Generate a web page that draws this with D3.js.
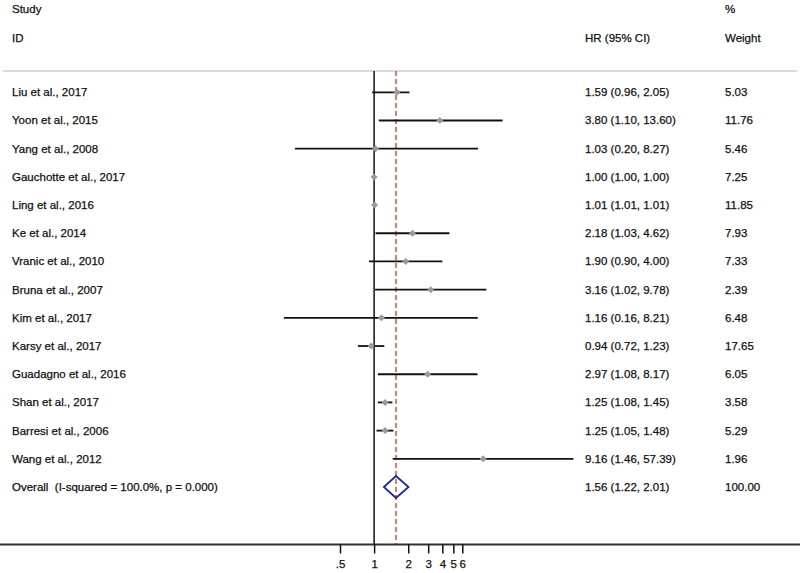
<!DOCTYPE html>
<html>
<head>
<meta charset="utf-8">
<script src="https://cdn.jsdelivr.net/npm/d3@7"></script>
<style>
	body { margin: 0; background: #fff; }
	text { font-family: "Liberation Sans", Arial, Helvetica, sans-serif; font-size: 11.5px; fill: #111; stroke: #111; stroke-width: 0.25px; white-space: pre; }
</style>
</head>
<body>
<div id="figure"></div>
<script>
var w = 800;
var h = 573;

// study data
var studies = ["Liu et al., 2017", "Yoon et al., 2015", "Yang et al., 2008", "Gauchotte et al., 2017",
	"Ling et al., 2016", "Ke et al., 2014", "Vranic et al., 2010", "Bruna et al., 2007", "Kim et al., 2017",
	"Karsy et al., 2017", "Guadagno et al., 2016", "Shan et al., 2017", "Barresi et al., 2006", "Wang et al., 2012"];
var hr = [1.59, 3.80, 1.03, 1.00, 1.01, 2.18, 1.90, 3.16, 1.16, 0.94, 2.97, 1.25, 1.25, 9.16];
var lower = [0.96, 1.10, 0.20, 1.00, 1.01, 1.03, 0.90, 1.02, 0.16, 0.72, 1.08, 1.08, 1.05, 1.46];
var upper = [2.05, 13.60, 8.27, 1.00, 1.01, 4.62, 4.00, 9.78, 8.21, 1.23, 8.17, 1.45, 1.48, 57.39];
var weights = [5.03, 11.76, 5.46, 7.25, 11.85, 7.93, 7.33, 2.39, 6.48, 17.65, 6.05, 3.58, 5.29, 1.96];

// pooled estimate
var overallLabel = "Overall  (I-squared = 100.0%, p = 0.000)";
var overall = {hr: 1.56, lo: 1.22, hi: 2.01, weight: 100.00};

var tickValues = [0.5, 1, 2, 3, 4, 5, 6];
var tickLabels = [".5", "1", "2", "3", "4", "5", "6"];

var svg = d3.select('#figure')
	.append('svg')
	.attr('width', w)
	.attr('height', h);

var xScale = d3.scaleLog()
	.domain([0.5, 6])
	.range([340, 462.3]);

var yScale = d3.scaleLinear()
	.domain([0, studies.length])
	.range([92.3, 487]);

var axisY = 544.5;
var topY = 71;
var colLabel = 12, colHR = 585, colW = 725;

function fmt(v){ return v.toFixed(2); }

// header
svg.append('text').attr('x', colLabel).attr('y', 13).text('Study');
svg.append('text').attr('x', colLabel).attr('y', 42).text('ID');
svg.append('text').attr('x', colHR).attr('y', 42).text('HR (95% CI)');
svg.append('text').attr('x', colW).attr('y', 13).text('%');
svg.append('text').attr('x', colW).attr('y', 42).text('Weight');

svg.append('line')
	.attr('x1', 3).attr('x2', 797)
	.attr('y1', topY).attr('y2', topY)
	.attr('stroke', '#c9ccd3')
	.attr('stroke-width', 1.5);

// null line
svg.append('line')
	.attr('x1', xScale(1)).attr('x2', xScale(1))
	.attr('y1', topY).attr('y2', axisY)
	.attr('stroke', '#111')
	.attr('stroke-width', 1.5);

// overall effect line
svg.append('line')
	.attr('x1', xScale(overall.hr)).attr('x2', xScale(overall.hr))
	.attr('y1', topY).attr('y2', axisY)
	.attr('stroke', '#c0392b')
	.attr('stroke-width', 1.3)
	.attr('stroke-dasharray', '5,3');

// confidence intervals
var rows = svg.append('g').classed('rows', true);

rows.selectAll('line.ci')
	.data(studies)
	.enter()
	.append('line')
	.classed('ci', true)
	.attr('x1', function(d, i){ return xScale(lower[i]); })
	.attr('x2', function(d, i){ return xScale(upper[i]); })
	.attr('y1', function(d, i){ return yScale(i); })
	.attr('y2', function(d, i){ return yScale(i); })
	.attr('stroke', '#111')
	.attr('stroke-width', 1.8);

// point estimates
rows.selectAll('path.pt')
	.data(studies)
	.enter()
	.append('path')
	.classed('pt', true)
	.attr('d', function(d, i){
		var x = xScale(hr[i]), y = yScale(i), r = 3.5;
		return 'M' + (x - r) + ',' + y + 'L' + x + ',' + (y - r) + 'L' + (x + r) + ',' + y + 'L' + x + ',' + (y + r) + 'Z';
	})
	.attr('fill', '#9a9a9a');

// study labels
rows.selectAll('text.name')
	.data(studies)
	.enter()
	.append('text')
	.attr('x', colLabel)
	.attr('y', function(d, i){ return yScale(i) + 4; })
	.text(function(d){ return d; });

rows.selectAll('text.hr')
	.data(studies)
	.enter()
	.append('text')
	.attr('x', colHR)
	.attr('y', function(d, i){ return yScale(i) + 4; })
	.text(function(d, i){ return fmt(hr[i]) + ' (' + fmt(lower[i]) + ', ' + fmt(upper[i]) + ')'; });

rows.selectAll('text.wt')
	.data(studies)
	.enter()
	.append('text')
	.attr('x', colW)
	.attr('y', function(d, i){ return yScale(i) + 4; })
	.text(function(d, i){ return fmt(weights[i]); });

// overall diamond
var oy = yScale(studies.length);
svg.append('path')
	.attr('d', 'M' + xScale(overall.lo) + ',' + oy +
		'L' + xScale(overall.hr) + ',' + (oy - 11) +
		'L' + xScale(overall.hi) + ',' + oy +
		'L' + xScale(overall.hr) + ',' + (oy + 11) + 'Z')
	.attr('fill', 'none')
	.attr('stroke', '#1f2b8c')
	.attr('stroke-width', 1.8);

svg.append('text').attr('x', colLabel).attr('y', oy + 4).text(overallLabel);
svg.append('text').attr('x', colHR).attr('y', oy + 4)
	.text(fmt(overall.hr) + ' (' + fmt(overall.lo) + ', ' + fmt(overall.hi) + ')');
svg.append('text').attr('x', colW).attr('y', oy + 4).text(fmt(overall.weight));

// x axis
svg.append('line')
	.attr('x1', 0).attr('x2', w)
	.attr('y1', axisY).attr('y2', axisY)
	.attr('stroke', '#333')
	.attr('stroke-width', 1.8);

var xAxis = d3.axisBottom(xScale)
	.tickValues(tickValues)
	.tickSize(9)
	.tickPadding(6)
	.tickFormat(function(d, i){ return tickLabels[i]; });

var axisG = svg.append('g')
	.classed('xAxis', true)
	.attr('transform', 'translate(0,' + axisY + ')')
	.call(xAxis);

axisG.select('.domain').remove();
axisG.selectAll('.tick line').attr('stroke', '#111').attr('stroke-width', 1.5);
axisG.selectAll('.tick text').attr('font-size', 12).attr('fill', '#111')
	.style('font-family', '"Liberation Sans", Arial, sans-serif');
</script>
</body>
</html>
